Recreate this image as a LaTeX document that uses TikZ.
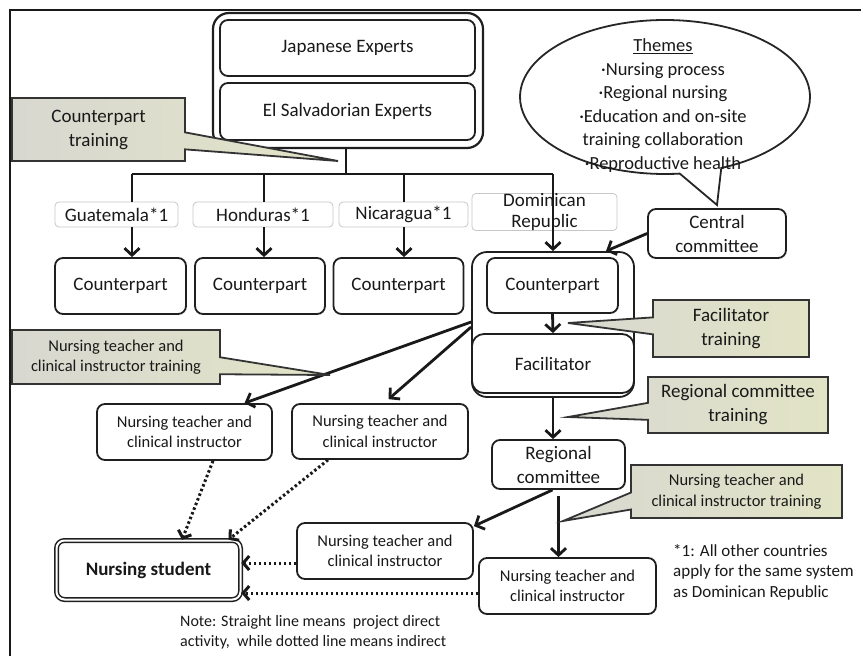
\documentclass[tikz,border=0pt]{standalone}
\usepackage{fontspec}
\setmainfont{Carlito}
\usetikzlibrary{arrows.meta,shapes.callouts,shapes.geometric,calc}
\newcommand\fsbig{\fontsize{19}{24}\selectfont}
\newcommand\fsdr{\fontsize{19}{21}\selectfont}
\newcommand\fssmall{\fontsize{16.5}{20.5}\selectfont}
\newcommand\fsth{\fontsize{18.5}{23.5}\selectfont}
\newcommand\fsnote{\fontsize{16}{20}\selectfont}
\newcommand\fsfoot{\fontsize{17}{20.5}\selectfont}
\definecolor{cgA}{RGB}{216,216,208}
\definecolor{cgB}{RGB}{226,228,198}
\begin{document}
\begin{tikzpicture}[x=1pt,y=-1pt,
  every node/.style={inner sep=0pt, align=center, text=black!90},
  ln/.style={draw=black!88, line width=1.8pt},
  box/.style={ln, rounded corners=8pt, fill=white, font=\fsbig},
  sbox/.style={ln, rounded corners=8pt, fill=white, font=\fssmall},
  lbl/.style={draw=black!22, line width=0.8pt, rounded corners=4pt, fill=white, font=\fsbig},
  cbox/.style={rectangle callout, draw=black!80, line width=1.8pt, left color=cgA, right color=cgB, callout pointer width=17pt},
  thk/.style={draw=black!90, line width=2.8pt},
  arr/.style={thk, -{Straight Barb[length=7pt,width=15pt]}},
  dotarr/.style={draw=black!90, line width=3pt, dash pattern=on 2.5pt off 2.5pt, -{Straight Barb[length=6pt,width=14pt]}},
]
\useasboundingbox (0,0) rectangle (861,656);
% frame
\draw[black!90, line width=1.6pt] (10,656) -- (10,10) -- (861,10);

% pointer tips and bar coordinates
\coordinate (t1) at (338,161);
\coordinate (t2) at (717,205);
\coordinate (t3) at (330,375);
\coordinate (t4) at (568,323);
\coordinate (t5) at (568,417);
\coordinate (t6) at (563,521);
\coordinate (bar) at (346,174);
\coordinate (b1) at (132,174);
\coordinate (b2) at (264,174);
\coordinate (b3) at (404,174);
\coordinate (b4) at (553,174);

% experts
\node[ln, line width=2.2pt, rounded corners=16pt, minimum width=270pt, minimum height=135pt] (ex) at (348,80.5) {};
\node[box, minimum width=255pt, minimum height=56pt] (jp) at (347.5,48) {Japanese Experts};
\node[box, minimum width=255pt, minimum height=57pt] (es) at (347.5,111.5) {El Salvadorian Experts};

% themes
\node[ellipse callout, draw=black!85, line width=1.8pt, fill=white, minimum width=290pt, minimum height=154pt, callout absolute pointer={(t2)}, callout pointer arc=17] (th) at (665,97) {};
\node[font=\fsth] (tht) at (663,105.5) {\underline{Themes}\\·Nursing process\\·Regional nursing\\·Education and on-site\\training collaboration\\·Reproductive health};

% countries
\node[lbl, minimum width=123pt, minimum height=25pt] (gua) at (116.5,214.5) {Guatemala*1};
\node[lbl, minimum width=140pt, minimum height=25pt] (hon) at (263,214.5) {Honduras*1};
\node[lbl, minimum width=129pt, minimum height=25pt] (nic) at (403.5,214.5) {Nicaragua*1};
\node[lbl, minimum width=145pt, minimum height=34pt, font=\fsdr] (dr) at (544.5,212) {Dominican\\Republic};

% counterparts
\node[box, minimum width=131pt, minimum height=56pt] (cp1) at (120.5,286) {Counterpart};
\node[box, minimum width=130pt, minimum height=56pt] (cp2) at (260,286) {Counterpart};
\node[box, minimum width=130pt, minimum height=56pt] (cp3) at (398.5,286) {Counterpart};
\node[ln, rounded corners=15pt, minimum width=162pt, minimum height=145pt] (grp) at (553,324.5) {};
\node[box, minimum width=131pt, minimum height=55pt] (cp4) at (552.5,285.5) {Counterpart};
\node[box, rounded corners=12pt, minimum width=162pt, minimum height=59pt] (fac) at (553,363.5) {Facilitator};
\node[box, minimum width=138pt, minimum height=49pt] (cen) at (717,233.5) {Central\\committee};

% lower boxes
\node[sbox, minimum width=175pt, minimum height=56pt] (nt1) at (184.5,432) {Nursing teacher and\\clinical instructor};
\node[sbox, minimum width=176pt, minimum height=55pt] (nt2) at (380,431.5) {Nursing teacher and\\clinical instructor};
\node[box, minimum width=133pt, minimum height=49pt] (rc) at (558.5,464.5) {Regional\\committee};
\node[sbox, minimum width=176pt, minimum height=56pt] (nt3) at (385,551) {Nursing teacher and\\clinical instructor};
\node[sbox, minimum width=177pt, minimum height=56pt] (nt4) at (567.5,586) {Nursing teacher and\\clinical instructor};
\node[ln, double, double distance=2pt, line width=1.5pt, rounded corners=8pt, fill=white, minimum width=184pt, minimum height=59pt, font=\fsbig\bfseries] (ns) at (148.5,570) {Nursing student};

% connectors
\draw[thk] (ex.south -| bar) -- (bar);
\draw[thk] (b1) -- (b4);
\draw[thk] (b1) -- (gua.north -| b1);
\draw[thk] (b2) -- (hon.north -| b2);
\draw[thk] (b3) -- (nic.north -| b3);
\draw[arr] (b4) -- (grp.north -| b4);
\draw[arr] (gua.south -| b1) -- (cp1.north -| b1);
\draw[arr] (hon.south -| b2) -- (cp2.north -| b2);
\draw[arr] (nic.south -| b3) -- (cp3.north -| b3);
\draw[arr] (cen.west) -- ([xshift=53pt]grp.north);
\draw[arr] (cp4.south) -- (fac.north);
\draw[arr] (grp.south -| b4) -- (rc.north -| b4);
\draw[arr] ([yshift=2.5pt]grp.west) -- ([xshift=60pt]nt1.north);
\draw[arr, shorten >=6pt] ([yshift=-2.5pt]grp.west) -- ([xshift=4pt]nt2.north);
\draw[arr] ([xshift=-6pt]rc.south) -- ([yshift=-4pt]nt3.north east);
\draw[arr] ([yshift=-6pt]rc.south) -- (rc.south |- nt4.north);

\draw[dotarr] ([xshift=28.5pt]nt1.south) -- ([xshift=33.5pt]ns.north);
\draw[dotarr] ([xshift=-52pt]nt2.south) -- ([xshift=80pt]ns.north);
\path ([yshift=-12pt]nt3.west) coordinate (q3);
\path ([yshift=-7pt]nt4.west) coordinate (q4);
\draw[dotarr] (q3) -- (q3 -| ns.east);
\draw[dotarr] (q4) -- (q4 -| ns.east);

% callouts
\node[cbox, font=\fsbig, minimum width=173pt, minimum height=63pt, callout absolute pointer={(t1)}] (c1) at (98.5,129.5) {Counterpart\\training};
\node[cbox, font=\fssmall, minimum width=208pt, minimum height=54pt, callout absolute pointer={(t3)}] (c2) at (116,357) {Nursing teacher and\\clinical instructor training};
\node[cbox, font=\fsbig, minimum width=156pt, minimum height=57pt, callout absolute pointer={(t4)}] (c3) at (731,328.5) {Facilitator\\training};
\node[cbox, font=\fsbig, minimum width=180pt, minimum height=56pt, callout absolute pointer={(t5)}] (c4) at (738,405) {Regional committee\\training};
\node[cbox, font=\fssmall, minimum width=211pt, minimum height=53pt, callout absolute pointer={(t6)}] (c5) at (736.5,491.5) {Nursing teacher and\\clinical instructor training};

% notes
\node[font=\fsnote, align=left, anchor=west] (note) at (180,632) {Note: Straight line means~ project direct\\activity,~ while dotted line means indirect};
\node[font=\fsfoot, align=left, anchor=west] (foot) at (673,572) {*1: All other countries\\apply for the same system\\as Dominican Republic};
\end{tikzpicture}
\end{document}
